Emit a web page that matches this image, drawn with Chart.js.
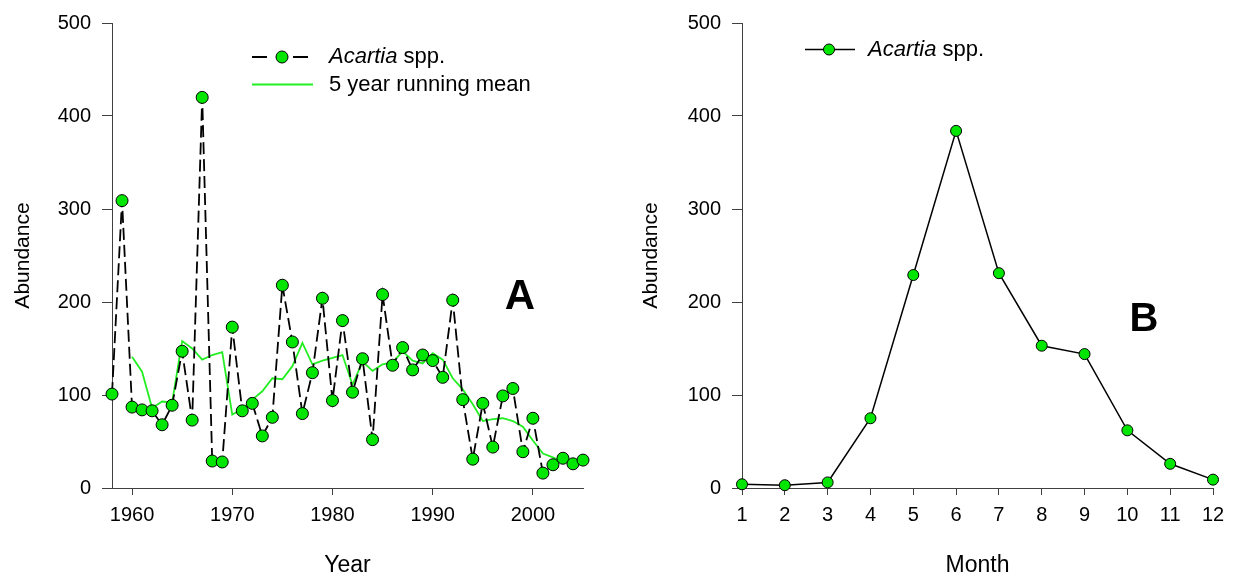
<!DOCTYPE html>
<html><head><meta charset="utf-8">
<script src="https://cdn.jsdelivr.net/npm/chart.js@4"></script>
<style>
html,body{margin:0;padding:0;background:#fff;}
#wrap{position:relative;width:1238px;height:585px;overflow:hidden;}
canvas{position:absolute;top:0;}
#c1{left:0;} #c2{left:619px;}
</style></head><body>
<div id="wrap"><canvas id="c1" width="619" height="585" style="width:619px;height:585px"></canvas><canvas id="c2" width="619" height="585" style="width:619px;height:585px"></canvas></div>
<script>
// ---- data ----
const years = [1958,1959,1960,1961,1962,1963,1964,1965,1966,1967,1968,1969,1970,1971,1972,1973,1974,1975,1976,1977,1978,1979,1980,1981,1982,1983,1984,1985,1986,1987,1988,1989,1990,1991,1992,1993,1994,1995,1996,1997,1998,1999,2000,2001,2002,2003,2004,2005];
const acartiaYearly = [101,309,87,84,83,68,89,147,73,420,29,28,173,83,91,56,76,218,157,80,124,204,94,180,103,139,52,208,132,151,127,143,137,119,202,95,31,91,44,99,107,39,75,16,25,32,26,30];
const meanYears = [1960,1961,1962,1963,1964,1965,1966,1967,1968,1969,1970,1971,1972,1973,1974,1975,1976,1977,1978,1979,1980,1981,1982,1983,1984,1985,1986,1987,1988,1989,1990,1991,1992,1993,1994,1995,1996,1997,1998,1999,2000,2001,2002,2003];
const runningMean = [141,125,86,93,92,158,150,138,143,146,79,85,95,104,118,117,131,156,133,137,140,143,111,136,126,133,135,147,137,134,145,138,118,106,90,72,74,75,72,66,51,37,33,28];
const yearTicks = [1960,1970,1980,1990,2000];
const months = [1,2,3,4,5,6,7,8,9,10,11,12];
const acartiaMonthly = [4,3,6,75,229,384,231,153,144,62,26,9];
const abundanceTicks = [0,100,200,300,400,500];
const seriesName = ['Acartia', ' spp.'];
const meanName = '5 year running mean';

// ---- styles ----
const FONT = "'Liberation Sans', Arial, Helvetica, sans-serif";
const GREEN = '#00e600';
const GREEN_LINE = '#22ee22';
const AXIS = '#404040';
Chart.defaults.font.family = FONT;
Chart.defaults.color = '#000';

function marker(ctx, x, y, r) {
  ctx.save();
  ctx.setLineDash([]);
  ctx.beginPath(); ctx.arc(x, y, r, 0, Math.PI * 2);
  ctx.fillStyle = GREEN; ctx.fill();
  ctx.lineWidth = 1; ctx.strokeStyle = '#000'; ctx.stroke();
  ctx.restore();
}
function mixedText(ctx, parts, x, y, size) {
  ctx.save();
  ctx.textBaseline = 'middle'; ctx.textAlign = 'left'; ctx.fillStyle = '#000';
  ctx.font = 'italic ' + size + 'px ' + FONT;
  ctx.fillText(parts[0], x, y);
  const w = ctx.measureText(parts[0]).width;
  ctx.font = size + 'px ' + FONT;
  ctx.fillText(parts[1], x + w, y);
  ctx.restore();
}
function panelLetter(ctx, t, x, y, size) {
  ctx.save();
  ctx.font = 'bold ' + size + 'px ' + FONT;
  ctx.textAlign = 'center'; ctx.textBaseline = 'middle'; ctx.fillStyle = '#000';
  ctx.fillText(t, x, y);
  ctx.restore();
}

const deco1 = {
  id: 'deco1',
  afterDraw(chart) {
    const ctx = chart.ctx;
    ctx.save();
    ctx.strokeStyle = '#000'; ctx.lineWidth = 1.8;
    ctx.beginPath(); ctx.moveTo(252, 57); ctx.lineTo(267, 57); ctx.moveTo(293, 57); ctx.lineTo(308, 57); ctx.stroke();
    marker(ctx, 282, 57, 6);
    mixedText(ctx, seriesName, 329, 57, 22);
    ctx.strokeStyle = GREEN_LINE; ctx.lineWidth = 2;
    ctx.beginPath(); ctx.moveTo(252, 84.5); ctx.lineTo(313, 84.5); ctx.stroke();
    ctx.font = '22px ' + FONT; ctx.textBaseline = 'middle'; ctx.fillStyle = '#000';
    ctx.fillText(meanName, 329, 84.5);
    ctx.restore();
    panelLetter(ctx, 'A', 520, 297, 42);
  }
};
const deco2 = {
  id: 'deco2',
  afterDraw(chart) {
    const ctx = chart.ctx;
    ctx.save();
    ctx.strokeStyle = '#000'; ctx.lineWidth = 1.5;
    ctx.beginPath(); ctx.moveTo(805 - 619, 49.5); ctx.lineTo(855 - 619, 49.5); ctx.stroke();
    marker(ctx, 829 - 619, 49.5, 5.5);
    mixedText(ctx, seriesName, 868 - 619, 49.5, 22);
    ctx.restore();
    panelLetter(ctx, 'B', 1144 - 619, 320, 40);
  }
};

function yScale(width, titlePad) {
  return {
    type: 'linear', min: 0, max: 500,
    afterBuildTicks: s => { s.ticks = abundanceTicks.map(v => ({ value: v })); },
    afterFit: s => { s.width = width; },
    ticks: { font: { size: 20 }, color: '#000', padding: 11 },
    grid: { drawOnChartArea: false, tickLength: 10, color: AXIS, lineWidth: 1 },
    border: { color: AXIS, width: 1 },
    title: { display: true, text: 'Abundance', font: { size: 21 }, color: '#000', padding: { top: titlePad, bottom: 0 } }
  };
}
function xScale(min, max, tickVals, title) {
  return {
    type: 'linear', min: min, max: max,
    afterBuildTicks: s => { s.ticks = tickVals.map(v => ({ value: v })); },
    afterFit: s => { s.height = 97; },
    ticks: { callback: v => String(v), font: { size: 20 }, color: '#000', padding: 8, maxRotation: 0, autoSkip: false },
    grid: { drawOnChartArea: false, tickLength: 7, color: AXIS, lineWidth: 1 },
    border: { color: AXIS, width: 1 },
    title: { display: true, text: title, font: { size: 23 }, color: '#000', padding: { top: 0, bottom: 6 } }
  };
}

new Chart(document.getElementById('c1'), {
  type: 'line',
  data: {
    datasets: [
      { label: seriesName.join(''), data: years.map((y, i) => ({ x: y, y: acartiaYearly[i] })),
        borderColor: '#000', borderWidth: 1.8, borderDash: [12, 5], tension: 0,
        pointRadius: 6, pointBackgroundColor: GREEN, pointBorderColor: '#000', pointBorderWidth: 1, clip: false },
      { label: meanName, data: meanYears.map((y, i) => ({ x: y, y: runningMean[i] })),
        borderColor: GREEN_LINE, borderWidth: 1.8, tension: 0, pointRadius: 0, clip: false }
    ]
  },
  options: {
    responsive: false, animation: false, devicePixelRatio: 1,
    layout: { padding: { left: 0, top: 18, right: 36, bottom: 0 } },
    plugins: { legend: { display: false }, tooltip: { enabled: false } },
    scales: { x: xScale(1958, 2005, yearTicks, 'Year'), y: yScale(112, 11) }
  },
  plugins: [deco1]
});

new Chart(document.getElementById('c2'), {
  type: 'line',
  data: {
    datasets: [
      { label: seriesName.join(''), data: months.map((m, i) => ({ x: m, y: acartiaMonthly[i] })),
        borderColor: '#000', borderWidth: 1.5, tension: 0,
        pointRadius: 5.5, pointBackgroundColor: GREEN, pointBorderColor: '#000', pointBorderWidth: 1, clip: false }
    ]
  },
  options: {
    responsive: false, animation: false, devicePixelRatio: 1,
    layout: { padding: { left: 0, top: 18, right: 25, bottom: 0 } },
    plugins: { legend: { display: false }, tooltip: { enabled: false } },
    scales: { x: xScale(1, 12, months, 'Month'), y: yScale(123, 20) }
  },
  plugins: [deco2]
});
</script>
</body></html>
